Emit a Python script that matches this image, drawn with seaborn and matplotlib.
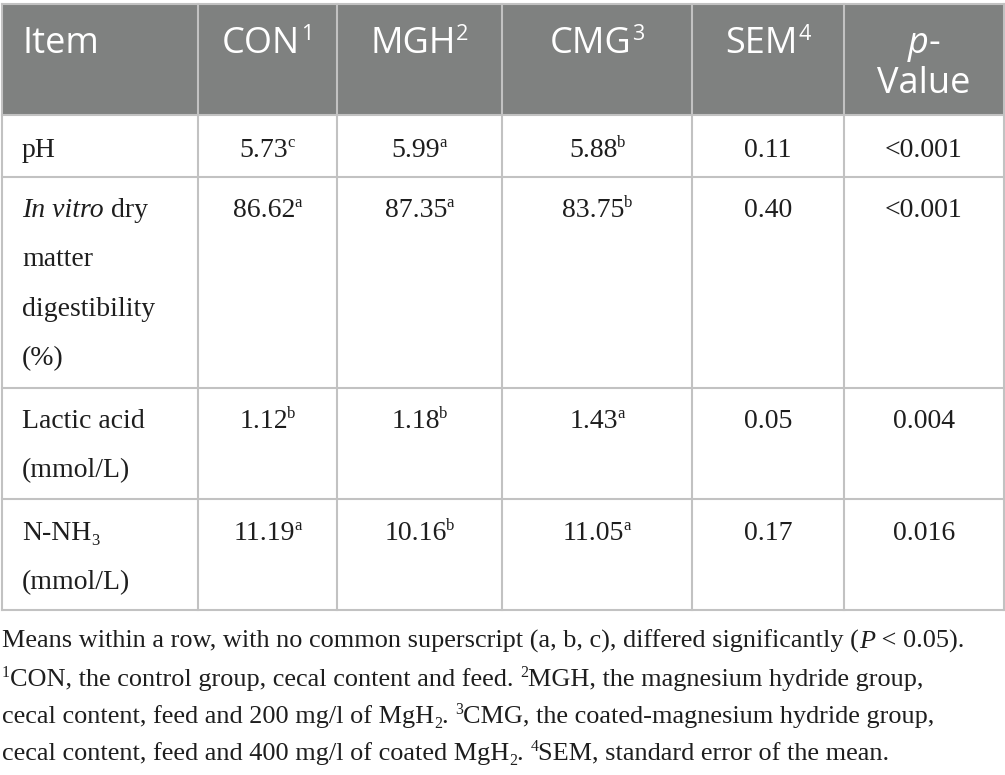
import re
import matplotlib
matplotlib.use("Agg")
import matplotlib.pyplot as plt
import seaborn as sns
from matplotlib.font_manager import FontProperties
from matplotlib.patches import Rectangle

# ---------------- data ----------------
header_lines = [["Item"], ["CON^{1}"], ["MGH^{2}"], ["CMG^{3}"], ["SEM^{4}"], ["*p*-", "Value"]]
item_lines = [["pH"],
              ["*In vitro* dry", "matter", "digestibility", "(%)"],
              ["Lactic acid", "(mmol/L)"],
              ["N-NH_{3}", "(mmol/L)"]]
con_values = ["5.73", "86.62", "1.12", "11.19"]
con_letters = ["c", "a", "b", "a"]
mgh_values = ["5.99", "87.35", "1.18", "10.16"]
mgh_letters = ["a", "a", "b", "b"]
cmg_values = ["5.88", "83.75", "1.43", "11.05"]
cmg_letters = ["b", "b", "a", "a"]
sem_values = ["0.11", "0.40", "0.05", "0.17"]
p_values = ["<0.001", "<0.001", "0.004", "0.016"]
footnotes = [
    "Means within a row, with no common superscript (a, b, c), differed significantly (*P* < 0.05).",
    "^{1}CON, the control group, cecal content and feed. ^{2}MGH, the magnesium hydride group,",
    "cecal content, feed and 200 mg/l of MgH_{2}. ^{3}CMG, the coated-magnesium hydride group,",
    "cecal content, feed and 400 mg/l of coated MgH_{2}. ^{4}SEM, standard error of the mean.",
]

# ---------------- layout ----------------
sns.set_theme(style="white")
W, H = 1005, 775
col_edges = [2, 198, 337, 502, 692, 844, 1004]
row_edges = [4, 115, 177, 388, 499, 610]
header_baselines = [53, 93]
row_baselines = [157, 217, 428, 540]
line_step = 49.5
note_baselines = [648, 686, 723, 760]
header_bg = "#7f8180"
grid_color = "#c2c2c2"
text_color = "#1e1e1e"

SERIF = "Liberation Serif"
SANS = "Open Sans"
body_pt = 20
header_pt = 26

fig = plt.figure(figsize=(W / 100, H / 100), dpi=100)
ax = fig.add_axes([0, 0, 1, 1])
ax.set_xlim(0, W)
ax.set_ylim(H, 0)
ax.axis("off")
renderer = fig.canvas.get_renderer()


def parse(s):
    runs = []
    for m in re.finditer(r"\*([^*]+)\*|\^\{([^}]*)\}|_\{([^}]*)\}|([^*^_]+)", s):
        if m.group(1):
            runs.append((m.group(1), "i"))
        elif m.group(2) is not None:
            runs.append((m.group(2), "sup"))
        elif m.group(3) is not None:
            runs.append((m.group(3), "sub"))
        else:
            runs.append((m.group(4), "n"))
    return runs


def fprops(family, size, style):
    if style == "i":
        return FontProperties(family=family, size=size, style="italic")
    if style in ("sup", "sub"):
        return FontProperties(family=family, size=size * 0.6)
    return FontProperties(family=family, size=size)


def text_width(txt, fp):
    t1 = ax.text(0, 0, "|" + txt + "|", fontproperties=fp)
    t2 = ax.text(0, 0, "||", fontproperties=fp)
    w = t1.get_window_extent(renderer).width - t2.get_window_extent(renderer).width
    t1.remove()
    t2.remove()
    return w


def draw_runs(x, y, s, family, size, color, ha="left", sup_gap=0.0):
    runs = parse(s)
    fps = [fprops(family, size, st) for _, st in runs]
    widths = [text_width(t, fp) for (t, _), fp in zip(runs, fps)]
    px = size * 100 / 72
    gaps = []
    for i, (t, st) in enumerate(runs):
        if st in ("sup", "sub") and i > 0 and not runs[i - 1][0].endswith(" "):
            gaps.append(sup_gap * px)
        else:
            gaps.append(0.0)
    total = sum(widths) + sum(gaps)
    if ha == "center":
        x = x - total / 2
    for (t, st), fp, w, g in zip(runs, fps, widths, gaps):
        x += g
        dy = 0
        if st == "sup":
            dy = -0.36 * px
        elif st == "sub":
            dy = 0.18 * px
        ax.text(x, y + dy, t, fontproperties=fp, color=color, ha="left", va="baseline")
        x += w
    return total


# header background
ax.add_patch(Rectangle((col_edges[0], row_edges[0]), col_edges[-1] - col_edges[0],
                       row_edges[1] - row_edges[0], facecolor=header_bg, edgecolor="none"))
# grid lines
for yv in row_edges:
    ax.plot([col_edges[0], col_edges[-1]], [yv, yv], color=grid_color, lw=1.5, solid_capstyle="projecting")
for xv in col_edges:
    ax.plot([xv, xv], [row_edges[0], row_edges[-1]], color=grid_color, lw=1.5, solid_capstyle="projecting")

centers = [(a + b) / 2 for a, b in zip(col_edges[:-1], col_edges[1:])]
left_pad = 22

# header
for ci, lines in enumerate(header_lines):
    for li, s in enumerate(lines):
        if ci == 0:
            draw_runs(col_edges[0] + left_pad - 2, header_baselines[li], s, SANS, header_pt, "white")
        else:
            draw_runs(centers[ci], header_baselines[li], s, SANS, header_pt, "white", ha="center",
                      sup_gap=0.015)

# body
value_cols = [
    [v + "^{" + l + "}" for v, l in zip(con_values, con_letters)],
    [v + "^{" + l + "}" for v, l in zip(mgh_values, mgh_letters)],
    [v + "^{" + l + "}" for v, l in zip(cmg_values, cmg_letters)],
    sem_values,
    p_values,
]
for ri, lines in enumerate(item_lines):
    for li, s in enumerate(lines):
        draw_runs(col_edges[0] + left_pad - 2, row_baselines[ri] + li * line_step, s, SERIF, body_pt, text_color)
    for ci, col in enumerate(value_cols):
        draw_runs(centers[ci + 1], row_baselines[ri], col[ri], SERIF, body_pt, text_color, ha="center",
                  sup_gap=-0.02)

# footnotes: fit first line width
probe = 18
w0 = sum(text_width(t, fprops(SERIF, probe, st)) for t, st in parse(footnotes[0]))
note_pt = probe * 965 / w0
for s, yb in zip(footnotes, note_baselines):
    draw_runs(2, yb, s, SERIF, note_pt, text_color)

fig.savefig("out.png", dpi=100)
